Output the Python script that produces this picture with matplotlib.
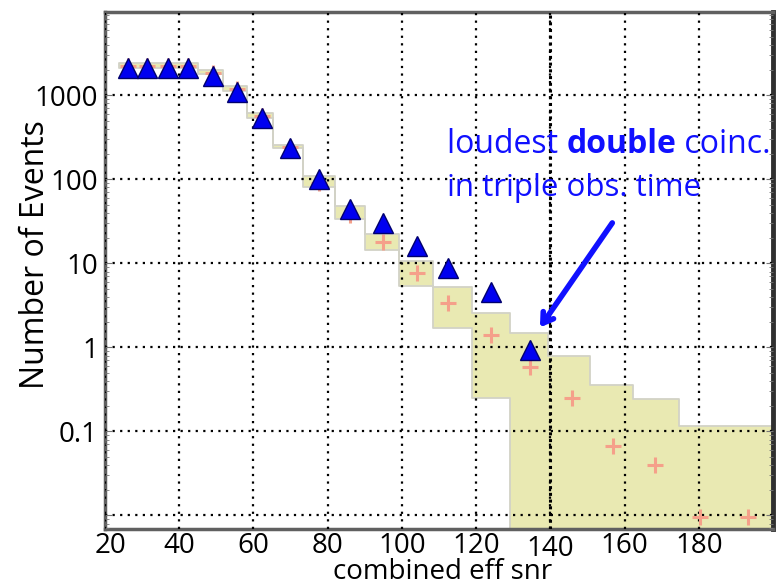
import matplotlib
matplotlib.use("Agg")
import matplotlib.pyplot as plt
import numpy as np

plt.rcParams['font.family'] = ['Open Sans', 'DejaVu Sans']

# bin edges of the background histogram (combined eff snr)
bin_edges = [23.7, 28.7, 34.1, 39.7, 45.1, 51.8, 58.3, 65.3, 73.4, 82.0, 90.1,
             99.2, 108.4, 118.9, 129.2, 139.4, 150.7, 162.3, 174.7, 186.8, 212.0]

# expected background (crosses) and its +/- band (yellow boxes)
bg_snr = [26.2, 31.3, 37.0, 42.4, 49.1, 55.6, 62.3, 69.9, 77.7, 86.0, 94.9,
          104.1, 112.5, 124.0, 134.6, 145.9, 156.9, 168.2, 180.4, 193.3]
bg_mean = [2250, 2250, 2250, 2250, 1850, 1200, 570, 245, 90, 38, 18,
           7.6, 3.4, 1.39, 0.58, 0.25, 0.067, 0.040, 0.0096, 0.0096]
bg_upper = [2450, 2450, 2450, 2450, 2000, 1290, 620, 255, 110, 48, 22.5,
            10.7, 5.3, 2.6, 1.47, 0.80, 0.36, 0.24, 0.115, 0.115]
bg_lower = [2100, 2100, 2100, 2100, 1780, 1130, 530, 235, 80, 34, 14.5,
            5.4, 1.68, 0.25, 0, 0, 0, 0, 0, 0]

# foreground (triangles)
fg_snr = bg_snr[:15]
fg_counts = [2100, 2100, 2100, 2100, 1700, 1090, 540, 235, 100, 44.6, 30.3,
             16.2, 8.9, 4.6, 0.92]

x_ticks = [20, 40, 60, 80, 100, 120, 140, 160, 180]
y_ticks = [0.01, 0.1, 1, 10, 100, 1000]
y_labels = ['', '0.1', '1', '10', '100', '1000']

W, H = 778, 586
fig = plt.figure(figsize=(W / 100, H / 100), dpi=100)
ax = fig.add_axes([105 / W, 1 - 529 / H, 668 / W, 517 / H])
ax.set_yscale('log')
ax.set_xlim(20, 200)
ax.set_ylim(0.0069, 9800)

# yellow background band, drawn as one stepped region
lo = np.array(bg_lower, dtype=float)
lo = np.where(lo > 0, lo, 1e-4)
hi = np.array(bg_upper, dtype=float)
ax.fill_between(bin_edges, np.append(lo, lo[-1]), np.append(hi, hi[-1]),
                step='post', facecolor='#e9e9b2', edgecolor='#d2d2c6',
                linewidth=1.3, zorder=1)

ax.plot(bg_snr, bg_mean, linestyle='none', marker='+', ms=12, mew=2.2,
        color='#f5a08a', zorder=3, clip_on=False)
ax.plot(fg_snr, fg_counts, linestyle='none', marker='^', ms=14, mew=1.0,
        mfc='#0000f0', mec='#00006e', zorder=4)

# grid
ax.set_xticks(x_ticks)
ax.set_yticks(y_ticks)
ax.set_yticklabels(y_labels)
ax.grid(True, which='major', color='black', linestyle=(0, (1, 2.4)), linewidth=1.6)
ax.axvline(140, color='black', linestyle=(0, (1, 1.2)), linewidth=2.2, zorder=2.6)
ax.set_axisbelow(False)

ax.tick_params(axis='y', which='both', direction='in', left=True, right=True,
               colors='#777777', labelcolor='black', labelsize=20, pad=5)
ax.tick_params(axis='y', which='major', length=5)
ax.tick_params(axis='y', which='minor', length=3)
ax.tick_params(axis='x', which='both', length=0, labelbottom=False)

for s in ['left', 'bottom', 'top']:
    ax.spines[s].set_color('#606060')
    ax.spines[s].set_linewidth(2.5)
ax.spines['right'].set_color('#303030')
ax.spines['right'].set_linewidth(3.5)

# x tick labels drawn by hand (the 20 is nudged right, the 140 sits lower)
for v in x_ticks:
    dx = 5 if v == 20 else 0
    dy = -6 if v == 140 else -3
    ax.annotate(str(v), xy=(v, 0), xycoords=('data', 'axes fraction'),
                xytext=(dx, dy), textcoords='offset pixels',
                ha='center', va='top', fontsize=20)

fig.text(443 / W, 1 - 579 / H, 'combined eff snr', ha='center', va='baseline',
         fontsize=20)
ax.set_ylabel('Number of Events', fontsize=23)
ax.yaxis.set_label_coords(-0.08, 0.5 + (270 - 254) / 517)

# annotation
blue = '#1010ff'
fig.canvas.draw()
r = fig.canvas.get_renderer()
x0 = 447
parts = [('loudest ', 'normal'), ('double', 'bold'), (' coinc.', 'normal')]
xc = x0
for txt, wt in parts:
    t = fig.text(xc / W, 1 - 153 / H, txt, color=blue, fontsize=23,
                 fontweight=wt, ha='left', va='baseline')
    xc += t.get_window_extent(r).width
fig.text(x0 / W, 1 - 196 / H, 'in triple obs. time', color=blue, fontsize=22.5,
         ha='left', va='baseline')

ax.annotate('', xy=(137.2, 1.73), xytext=(156.7, 30.3),
            arrowprops=dict(arrowstyle='->,head_length=0.7,head_width=0.45',
                            color=blue, lw=4, shrinkA=0, shrinkB=0), zorder=5)

fig.savefig('out.png', dpi=100)
